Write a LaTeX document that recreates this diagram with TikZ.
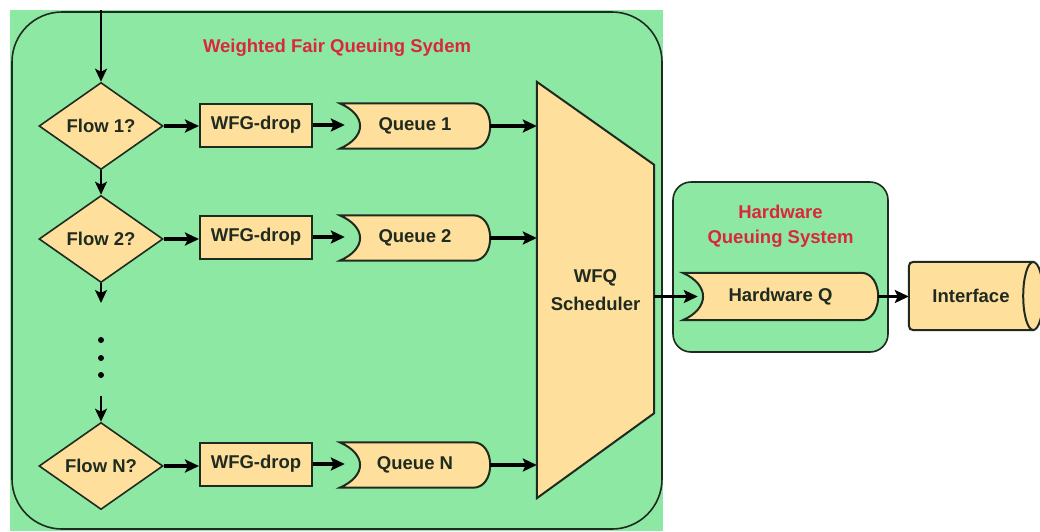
\documentclass[tikz,border=0pt]{standalone}
\usepackage{fontspec}
\setmainfont{Liberation Sans}
\usetikzlibrary{shapes.geometric,arrows.meta,calc}
\definecolor{gfill}{HTML}{8DE8A4}
\definecolor{ofill}{HTML}{FFDF9C}
\definecolor{tred}{HTML}{D8283A}
\definecolor{edge}{HTML}{1F2B1F}
\pgfdeclarelayer{bg}\pgfdeclarelayer{mid}\pgfsetlayers{bg,mid,main}
\newcommand{\qshape}[1]{%
 \filldraw[shapeline] (#1.north west) .. controls ($(#1.north west)+(27,12)$) and ($(#1.south west)+(27,-12)$) .. (#1.south west) -- ($(#1.south east)+(-17,0)$) .. controls ($(#1.south east)+(-6,0)$) and ($(#1.east)+(0,12)$) .. (#1.east) .. controls ($(#1.east)+(0,-12)$) and ($(#1.north east)+(-6,0)$) .. ($(#1.north east)+(-17,0)$) -- cycle;}
\tikzset{
 lbl/.style={font=\fontsize{18.5}{26}\selectfont\bfseries, text=edge},
 ttl/.style={font=\fontsize{18.5}{25}\selectfont\bfseries, text=tred, align=center},
 decision/.style={lbl, diamond, draw=edge, fill=ofill, line width=1.6pt, minimum width=124pt, minimum height=87pt, inner sep=0pt, aspect=1.4},
 dropbox/.style={lbl, rectangle, draw=edge, fill=ofill, line width=2pt, minimum width=112pt, minimum height=43pt, inner sep=0pt},
 qnode/.style={lbl, minimum width=150pt, minimum height=45pt, inner sep=0pt},
 shapeline/.style={draw=edge, fill=ofill, line width=2pt},
 arr/.style={-{Stealth[length=14pt,width=13pt,inset=3pt]}, line width=3.2pt, draw=black},
 varr/.style={-{Stealth[length=13pt,width=12pt,inset=3pt]}, line width=2pt, draw=black},
 dotn/.style={circle, fill=black, inner sep=0pt, minimum size=6pt},
}
\begin{document}
\begin{tikzpicture}[x=1pt,y=-1pt]
\useasboundingbox (0,0) rectangle (1040,531);
\begin{pgfonlayer}{bg}
 \fill[white] (0,0) rectangle (1040,531);
 \fill[gfill] (10,10) rectangle (663,531);
 \draw[edge, line width=1.6pt, rounded corners=50pt] (12,12) rectangle (662,529);
 \node[draw=edge, fill=gfill, line width=1.6pt, rounded corners=18pt, minimum width=215pt, minimum height=170pt] (hwsys) at (780.5,267) {};
\end{pgfonlayer}

\node[ttl] (wfqtitle) at (337,48) {Weighted Fair Queuing Sydem};
\node[ttl] (hwtitle) at (780.5,226) {Hardware\\Queuing System};

% row 1
\node[decision] (d1) at (101,126) {Flow 1?};
\node[dropbox] (w1) at (256,125) {WFG-drop};
\node[qnode] (q1) at (415,126) {Queue 1};
% row 2
\node[decision] (d2) at (101,239) {Flow 2?};
\node[dropbox] (w2) at (256,237) {WFG-drop};
\node[qnode] (q2) at (415,238) {Queue 2};
% row N
\node[decision] (dN) at (101,466) {Flow N?};
\node[dropbox] (wN) at (256,464) {WFG-drop};
\node[qnode] (qN) at (415,465) {Queue N};

% scheduler
\node[lbl, align=center, minimum width=117pt, minimum height=416pt, inner sep=0pt] (sched) at (595.5,290) {WFQ\\[2pt]Scheduler};
% hardware queue
\node[qnode, minimum width=195pt, minimum height=47pt] (hq) at (780.5,296.5) {Hardware Q};
% interface
\node[lbl, minimum width=124pt, minimum height=68pt, inner sep=0pt] (iface) at (971,296) {Interface};

\begin{pgfonlayer}{mid}
 \qshape{q1}\qshape{q2}\qshape{qN}\qshape{hq}
 \filldraw[shapeline] (sched.north west) -- ($(sched.north east)+(0,83)$) -- ($(sched.south east)+(0,-85)$) -- (sched.south west) -- cycle;
 \filldraw[shapeline] (iface.north east) -- ($(iface.north west)+(10,0)$) .. controls (iface.north west) .. ($(iface.north west)+(0,10)$) -- ($(iface.south west)+(0,-10)$) .. controls (iface.south west) .. ($(iface.south west)+(10,0)$) -- (iface.south east) -- cycle;
 \filldraw[shapeline] (iface.east) ellipse [x radius=10, y radius=34];
\end{pgfonlayer}

% vertical flow
\coordinate (entry) at (101,10);
\coordinate (gapTop) at (101,303);
\coordinate (gapBot) at (101,396);
\node[dotn] (dot1) at (101,340) {};
\node[dotn] (dot2) at (101,358) {};
\node[dotn] (dot3) at (101,375) {};
\draw[varr] (entry) -- (d1.north);
\draw[varr] (d1.south) -- (d2.north);
\draw[varr] (d2.south) -- (gapTop);
\draw[varr] (gapBot) -- (dN.north);

% horizontal arrows
\foreach \d/\w/\q in {d1/w1/q1, d2/w2/q2, dN/wN/qN}{
 \draw[arr] (\d.east) -- (\d.east -| \w.west);
 \draw[arr] (\w.east) -- ($(\w.east -| \q.west)+(5,0)$);
 \draw[arr] (\q.east) -- (\q.east -| sched.west);
}
\draw[arr] (sched.east |- hq.west) -- ($(hq.west)+(15,0)$);
\draw[arr] (hq.east) -- (hq.east -| iface.west);
\end{tikzpicture}
\end{document}
